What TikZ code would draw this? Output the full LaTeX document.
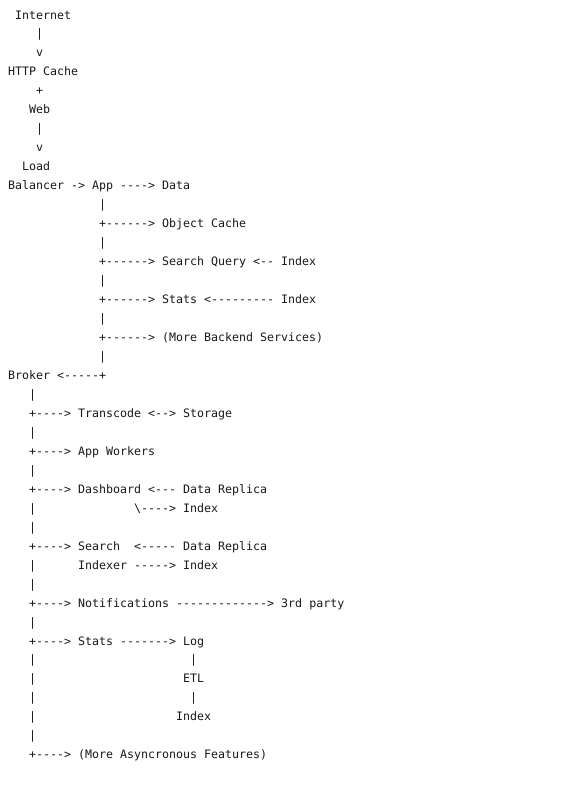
\documentclass[tikz,border=0pt]{standalone}
\usepackage{fontspec}
\setmonofont{DejaVu Sans Mono}
\usetikzlibrary{positioning}

\begin{document}
\begin{tikzpicture}[x=1pt, y=-1pt, ascii/.style={anchor=base west, inner sep=0pt, text=black!90, font=\ttfamily\fontsize{11.63}{14}\selectfont}]
		\useasboundingbox[fill=white] (0,0) rectangle (580,790);
		% row/column/text, one fragment per node
		\foreach \r/\c/\t [count=\n] in {
			0/1/Internet, 1/4/|, 2/4/v, 3/0/HTTP Cache, 4/4/+, 5/3/Web, 6/4/|, 7/4/v, 8/2/Load,
			9/0/Balancer -> App ----> Data,
			10/13/|, 11/13/+------> Object Cache, 12/13/|,
			13/13/+------> Search Query <-- Index, 14/13/|,
			15/13/+------> Stats <--------- Index, 16/13/|,
			17/13/+------> (More Backend Services), 18/13/|,
			19/0/Broker <-----+,
			20/3/|, 21/3/+----> Transcode <--> Storage, 22/3/|,
			23/3/+----> App Workers, 24/3/|,
			25/3/+----> Dashboard <--- Data Replica,
			26/3/|, 26/18/\textbackslash----> Index, 27/3/|,
			28/3/+----> Search~~<----- Data Replica,
			29/3/|, 29/10/Indexer -----> Index, 30/3/|,
			31/3/+----> Notifications -------------> 3rd party, 32/3/|,
			33/3/+----> Stats -------> Log,
			34/3/|, 34/26/|, 35/3/|, 35/25/ETL, 36/3/|, 36/26/|, 37/3/|, 37/24/Index, 38/3/|,
			39/3/+----> (More Asyncronous Features)}
			\node[ascii] (line\n) at ({8+7*\c}, {19+18.97*\r}) {\t};
	\end{tikzpicture}
\end{document}
